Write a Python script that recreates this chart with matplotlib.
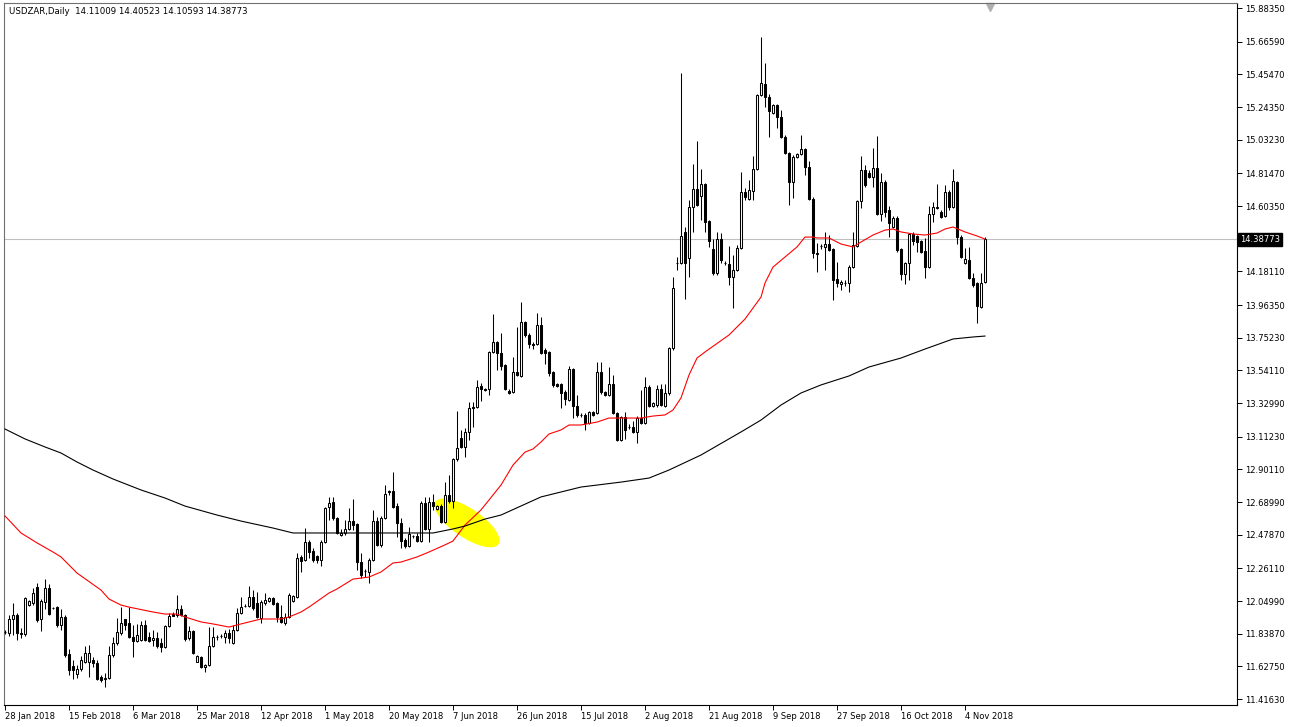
import matplotlib
matplotlib.use("Agg")
import matplotlib.pyplot as plt
from matplotlib.patches import Ellipse
from matplotlib.transforms import IdentityTransform, blended_transform_factory
import numpy as np

# 字体设置
matplotlib.rcParams['font.family'] = ['DejaVu Sans']

# USDZAR 日线 OHLC（从图中读取，每根K线一个值）
opens = [11.850, 11.843, 11.934, 11.960, 11.843, 11.837, 12.024, 12.037, 12.141, 11.934,
         12.044, 12.134, 12.005, 12.011, 11.895, 11.947, 11.708, 11.630, 11.578, 11.611,
         11.656, 11.656, 11.669, 11.650, 11.559, 11.546, 11.552, 11.701, 11.779, 11.843,
         11.934, 11.908, 11.818, 11.792, 11.798, 11.895, 11.818, 11.798, 11.811, 11.779,
         11.753, 11.889, 11.966, 11.960, 11.999, 11.960, 11.811, 11.856, 11.656, 11.688,
         11.624, 11.637, 11.759, 11.818, 11.824, 11.818, 11.843, 11.779, 11.863, 11.973,
         12.018, 12.018, 12.076, 12.037, 11.940, 12.037, 12.050, 12.070, 12.037, 11.947,
         11.908, 11.947, 12.050, 12.076, 12.335, 12.315, 12.432, 12.374, 12.341, 12.315,
         12.432, 12.658, 12.690, 12.587, 12.477, 12.490, 12.516, 12.567, 12.548, 12.302,
         12.244, 12.238, 12.315, 12.567, 12.413, 12.587, 12.761, 12.761, 12.664, 12.554,
         12.445, 12.406, 12.470, 12.470, 12.438, 12.684, 12.516, 12.690, 12.645, 12.664,
         12.561, 12.735, 12.697, 12.968, 13.104, 13.046, 13.143, 13.304, 13.304, 13.440,
         13.421, 13.421, 13.660, 13.724, 13.653, 13.576, 13.408, 13.401, 13.530, 13.505,
         13.854, 13.770, 13.711, 13.711, 13.834, 13.673, 13.660, 13.530, 13.453, 13.453,
         13.401, 13.350, 13.550, 13.311, 13.253, 13.253, 13.201, 13.272, 13.266, 13.530,
         13.401, 13.382, 13.453, 13.266, 13.091, 13.240, 13.175, 13.175, 13.143, 13.233,
         13.201, 13.434, 13.311, 13.317, 13.421, 13.311, 13.395, 13.686, 14.235, 14.235,
         14.436, 14.267, 14.597, 14.713, 14.668, 14.746, 14.507, 14.326, 14.170, 14.390,
         14.235, 14.229, 14.145, 14.190, 14.332, 14.694, 14.649, 14.700, 14.843, 15.321,
         15.392, 15.308, 15.205, 15.257, 15.179, 15.050, 14.946, 14.759, 14.920, 14.940,
         14.972, 14.856, 14.649, 14.300, 14.345, 14.339, 14.358, 14.326, 14.132, 14.100,
         14.106, 14.106, 14.209, 14.345, 14.636, 14.836, 14.817, 14.791, 14.849, 14.552,
         14.759, 14.578, 14.468, 14.526, 14.326, 14.164, 14.235, 14.423, 14.410, 14.377,
         14.313, 14.209, 14.552, 14.591, 14.565, 14.539, 14.694, 14.597, 14.759, 14.403,
         14.235, 14.255, 14.138, 14.106, 13.951, 14.11009]
highs = [11.863, 11.960, 12.037, 11.973, 11.876, 12.076, 12.057, 12.134, 12.167, 12.063,
         12.192, 12.160, 12.011, 12.018, 11.999, 11.960, 11.740, 11.669, 11.637, 11.695,
         11.759, 11.766, 11.688, 11.669, 11.572, 11.585, 11.759, 11.818, 11.940, 12.011,
         11.937, 12.011, 11.895, 11.902, 11.921, 11.927, 11.850, 11.863, 11.850, 11.811,
         11.895, 11.973, 11.979, 12.089, 12.024, 11.966, 11.889, 11.863, 11.701, 11.695,
         11.643, 11.882, 11.882, 11.830, 11.837, 11.863, 11.869, 11.895, 12.005, 12.076,
         12.031, 12.147, 12.121, 12.108, 12.057, 12.102, 12.076, 12.076, 12.044, 12.024,
         11.973, 12.102, 12.089, 12.361, 12.348, 12.522, 12.445, 12.393, 12.348, 12.445,
         12.658, 12.722, 12.722, 12.593, 12.516, 12.574, 12.651, 12.709, 12.554, 12.361,
         12.257, 12.328, 12.639, 12.593, 12.600, 12.800, 12.768, 12.884, 12.684, 12.587,
         12.458, 12.529, 12.477, 12.490, 12.697, 12.722, 12.722, 12.742, 12.671, 12.677,
         12.819, 12.865, 12.975, 13.278, 13.156, 13.169, 13.337, 13.337, 13.479, 13.459,
         13.427, 13.666, 13.905, 13.731, 13.782, 13.582, 13.421, 13.627, 13.821, 13.983,
         13.860, 13.782, 13.724, 13.912, 13.886, 13.686, 13.666, 13.537, 13.459, 13.459,
         13.414, 13.569, 13.556, 13.382, 13.266, 13.266, 13.278, 13.278, 13.595, 13.595,
         13.408, 13.563, 13.511, 13.272, 13.246, 13.272, 13.195, 13.214, 13.246, 13.414,
         13.498, 13.447, 13.337, 13.447, 13.453, 13.453, 13.692, 14.145, 14.274, 15.463,
         14.468, 14.642, 14.875, 15.024, 14.843, 14.752, 14.513, 14.390, 14.436, 14.429,
         14.248, 14.345, 14.287, 14.352, 14.823, 14.720, 14.772, 14.927, 15.328, 15.696,
         15.528, 15.328, 15.263, 15.263, 15.224, 15.063, 14.953, 14.933, 14.946, 15.063,
         14.979, 14.894, 14.662, 14.364, 14.358, 14.436, 14.416, 14.332, 14.242, 14.125,
         14.125, 14.222, 14.436, 14.642, 14.927, 14.869, 14.836, 14.979, 15.056, 14.817,
         14.772, 14.604, 14.539, 14.539, 14.332, 14.242, 14.429, 14.436, 14.416, 14.384,
         14.397, 14.604, 14.630, 14.746, 14.578, 14.739, 14.707, 14.843, 14.765, 14.416,
         14.332, 14.339, 14.170, 14.112, 14.170, 14.40523]
lows = [11.837, 11.824, 11.830, 11.798, 11.811, 11.824, 12.018, 12.024, 11.915, 11.856,
        11.999, 11.960, 11.999, 11.882, 11.863, 11.688, 11.572, 11.546, 11.552, 11.598,
        11.650, 11.559, 11.624, 11.540, 11.527, 11.494, 11.546, 11.688, 11.766, 11.830,
        11.863, 11.811, 11.688, 11.785, 11.792, 11.792, 11.785, 11.759, 11.746, 11.721,
        11.746, 11.882, 11.953, 11.947, 11.953, 11.792, 11.798, 11.708, 11.653, 11.617,
        11.591, 11.630, 11.753, 11.798, 11.811, 11.779, 11.779, 11.772, 11.856, 11.966,
        12.011, 12.011, 11.992, 11.940, 11.908, 12.024, 12.044, 12.024, 11.915, 11.908,
        11.895, 11.940, 12.044, 12.070, 12.238, 12.309, 12.328, 12.302, 12.296, 12.277,
        12.426, 12.574, 12.574, 12.483, 12.470, 12.477, 12.509, 12.509, 12.251, 12.199,
        12.205, 12.167, 12.309, 12.406, 12.400, 12.580, 12.735, 12.651, 12.464, 12.393,
        12.393, 12.400, 12.458, 12.432, 12.432, 12.509, 12.432, 12.639, 12.639, 12.554,
        12.554, 12.684, 12.651, 12.955, 13.039, 12.981, 13.091, 13.175, 13.298, 13.343,
        13.408, 13.382, 13.653, 13.543, 13.543, 13.414, 13.388, 13.395, 13.505, 13.498,
        13.757, 13.686, 13.679, 13.705, 13.647, 13.582, 13.505, 13.434, 13.434, 13.298,
        13.317, 13.343, 13.233, 13.240, 13.240, 13.156, 13.195, 13.246, 13.259, 13.388,
        13.375, 13.375, 13.259, 13.084, 13.084, 13.098, 13.162, 13.136, 13.072, 13.195,
        13.195, 13.304, 13.304, 13.304, 13.311, 13.304, 13.382, 13.673, 14.190, 14.229,
        14.002, 14.145, 14.436, 14.603, 14.513, 14.436, 14.339, 14.157, 14.157, 14.235,
        14.222, 14.093, 13.944, 14.183, 14.326, 14.642, 14.642, 14.642, 14.836, 15.315,
        15.244, 15.050, 15.198, 15.108, 15.043, 14.940, 14.610, 14.655, 14.914, 14.933,
        14.804, 14.642, 14.267, 14.177, 14.326, 14.190, 14.313, 13.996, 14.080, 14.061,
        14.087, 14.048, 14.203, 14.339, 14.591, 14.726, 14.785, 14.726, 14.545, 14.507,
        14.532, 14.403, 14.461, 14.306, 14.125, 14.100, 14.125, 14.352, 14.306, 14.300,
        14.138, 14.203, 14.500, 14.584, 14.526, 14.532, 14.578, 14.591, 14.358, 14.267,
        14.229, 14.132, 14.080, 13.847, 13.944, 14.10593]
closes = [11.850, 11.934, 11.960, 11.843, 11.837, 12.070, 12.050, 12.102, 11.927, 12.050,
          12.134, 11.966, 12.005, 11.895, 11.947, 11.701, 11.604, 11.604, 11.611, 11.669,
          11.714, 11.714, 11.650, 11.546, 11.540, 11.552, 11.701, 11.779, 11.850, 11.908,
          11.895, 11.818, 11.792, 11.830, 11.895, 11.798, 11.792, 11.811, 11.759, 11.753,
          11.889, 11.953, 11.953, 11.999, 11.960, 11.805, 11.856, 11.714, 11.695, 11.624,
          11.637, 11.759, 11.818, 11.818, 11.824, 11.843, 11.811, 11.863, 11.973, 12.011,
          12.018, 12.076, 12.005, 11.947, 12.044, 12.057, 12.070, 12.031, 11.947, 11.915,
          11.947, 12.089, 12.083, 12.328, 12.309, 12.432, 12.367, 12.315, 12.315, 12.432,
          12.651, 12.684, 12.587, 12.490, 12.490, 12.516, 12.567, 12.541, 12.302, 12.218,
          12.244, 12.315, 12.567, 12.413, 12.587, 12.742, 12.755, 12.658, 12.554, 12.438,
          12.406, 12.483, 12.470, 12.438, 12.684, 12.516, 12.690, 12.664, 12.664, 12.561,
          12.735, 12.697, 12.968, 13.039, 13.046, 13.143, 13.298, 13.298, 13.434, 13.421,
          13.414, 13.660, 13.724, 13.653, 13.569, 13.421, 13.395, 13.530, 13.511, 13.854,
          13.770, 13.711, 13.705, 13.834, 13.653, 13.653, 13.524, 13.447, 13.440, 13.395,
          13.356, 13.550, 13.311, 13.253, 13.253, 13.201, 13.272, 13.253, 13.530, 13.401,
          13.382, 13.453, 13.266, 13.091, 13.240, 13.156, 13.175, 13.143, 13.233, 13.201,
          13.434, 13.311, 13.330, 13.421, 13.317, 13.395, 13.686, 14.074, 14.235, 14.410,
          14.235, 14.597, 14.713, 14.610, 14.746, 14.500, 14.377, 14.170, 14.390, 14.255,
          14.235, 14.145, 14.190, 14.332, 14.694, 14.662, 14.707, 14.843, 15.321, 15.399,
          15.308, 15.218, 15.257, 15.179, 15.050, 14.946, 14.759, 14.920, 14.940, 14.972,
          14.856, 14.649, 14.300, 14.293, 14.345, 14.358, 14.319, 14.125, 14.106, 14.112,
          14.106, 14.209, 14.352, 14.636, 14.836, 14.739, 14.791, 14.849, 14.552, 14.759,
          14.565, 14.494, 14.526, 14.319, 14.164, 14.235, 14.423, 14.377, 14.371, 14.306,
          14.209, 14.552, 14.597, 14.597, 14.532, 14.694, 14.597, 14.765, 14.403, 14.274,
          14.261, 14.138, 14.093, 13.957, 14.106, 14.38773]

# 红色均线（K线序号, 数值）
red_ma_bar = [0, 4, 8, 12, 14, 18, 24, 26, 29, 31, 37, 40, 43, 45, 49, 52, 56, 59, 64, 69,
              71, 74, 76, 81, 83, 87, 91, 94, 97, 99, 103, 106, 110, 112, 115, 119, 124, 127, 130, 132,
              134, 136, 139, 141, 144, 148, 151, 155, 159, 162, 165, 167, 169, 171, 173, 175, 181, 185, 189, 190,
              192, 195, 198, 200, 202, 203, 206, 209, 212, 214, 217, 220, 222, 224, 227, 230, 233, 235, 237, 240,
              243, 245]
red_ma = [12.600, 12.490, 12.426, 12.367, 12.335, 12.231, 12.121, 12.063, 12.024, 12.011,
          11.979, 11.966, 11.966, 11.947, 11.915, 11.902, 11.882, 11.902, 11.934, 11.934,
          11.947, 11.979, 12.011, 12.102, 12.128, 12.192, 12.205, 12.238, 12.296, 12.302,
          12.335, 12.367, 12.413, 12.438, 12.541, 12.639, 12.800, 12.929, 13.013, 13.033,
          13.078, 13.130, 13.156, 13.188, 13.188, 13.207, 13.233, 13.233, 13.233, 13.246,
          13.253, 13.285, 13.363, 13.511, 13.621, 13.660, 13.770, 13.873, 14.015, 14.106,
          14.209, 14.274, 14.339, 14.403, 14.403, 14.397, 14.397, 14.358, 14.339, 14.371,
          14.416, 14.448, 14.455, 14.436, 14.423, 14.416, 14.429, 14.455, 14.468, 14.436,
          14.410, 14.390]

# 黑色均线（K线序号, 数值）
black_ma_bar = [0, 5, 10, 14, 18, 22, 27, 34, 40, 45, 53, 59, 67, 72, 81, 107, 112, 115, 120, 124,
                134, 144, 154, 161, 166, 174, 184, 189, 194, 199, 204, 211, 216, 224, 230, 237, 242, 245]
black_ma = [13.162, 13.098, 13.046, 13.007, 12.949, 12.897, 12.839, 12.768, 12.716, 12.664,
            12.606, 12.567, 12.522, 12.490, 12.490, 12.490, 12.516, 12.535, 12.580, 12.606,
            12.723, 12.787, 12.819, 12.845, 12.897, 12.994, 13.143, 13.220, 13.317, 13.395,
            13.447, 13.505, 13.563, 13.621, 13.679, 13.744, 13.757, 13.763]

# 坐标轴标签
date_bars = [0, 16, 32, 48, 64, 80, 96, 112, 128, 144, 160, 176, 192, 208, 224, 240]
date_labels = ["28 Jan 2018", "15 Feb 2018", "6 Mar 2018", "25 Mar 2018", "12 Apr 2018",
               "1 May 2018", "20 May 2018", "7 Jun 2018", "26 Jun 2018", "15 Jul 2018",
               "2 Aug 2018", "21 Aug 2018", "9 Sep 2018", "27 Sep 2018", "16 Oct 2018",
               "4 Nov 2018"]
price_labels = ["15.88350", "15.66590", "15.45470", "15.24350", "15.03230", "14.81470",
                "14.60350", "14.18110", "13.96350", "13.75230", "13.54110", "13.32990",
                "13.11230", "12.90110", "12.68990", "12.47870", "12.26110", "12.04990",
                "11.83870", "11.62750", "11.41630"]
last_price = 14.38773
title_text = "USDZAR,Daily  14.11009 14.40523 14.10593 14.38773"

W, H = 1289, 727
fig = plt.figure(figsize=(W / 100, H / 100), dpi=100)
fig.patch.set_facecolor('white')
ax = fig.add_axes([4 / W, 22 / H, 1233 / W, 702 / H])
ax.set_facecolor('white')
ax.set_xlim(-0.25, 308)
ax.set_ylim(11.378, 15.916)

o = np.array(opens)
h = np.array(highs)
l = np.array(lows)
c = np.array(closes)
x = np.arange(len(o))
up = c >= o

# 当前价格线
ax.axhline(last_price, color='#C0C0C0', linewidth=0.8, zorder=0)

# K线：影线 + 实体
ax.vlines(x, l, h, color='black', linewidth=0.75, zorder=3)
body_bottom = np.minimum(o, c)
body_height = np.abs(c - o)
ax.bar(x[up], body_height[up], 0.5, bottom=body_bottom[up], facecolor='white',
       edgecolor='black', linewidth=0.75, zorder=4)
ax.bar(x[~up], body_height[~up], 0.5, bottom=body_bottom[~up], facecolor='black',
       edgecolor='black', linewidth=0.75, zorder=4)

# 均线
ax.plot(red_ma_bar, red_ma, color='red', linewidth=0.8, zorder=5)
ax.plot(black_ma_bar, black_ma, color='black', linewidth=0.8, zorder=5)

# 黄色标记
cx, cy = ax.transData.transform((115.5, 12.555))
blob = Ellipse((cx, cy), 76, 29, angle=-34, transform=IdentityTransform(),
               facecolor='#FFFF00', edgecolor='none', zorder=1)
ax.add_patch(blob)

# 右侧价格轴
ax.yaxis.tick_right()
ax.set_yticks([float(s) for s in price_labels] + [last_price])
ax.set_yticklabels(price_labels + [""])
ax.tick_params(axis='y', direction='out', length=3.5, width=0.7, pad=2, labelsize=6)

# 底部日期轴
ax.set_xticks(date_bars)
ax.set_xticklabels(date_labels, ha='left')
ax.tick_params(axis='x', direction='out', length=3.5, width=0.7, pad=1.5, labelsize=6)

for side in ['right', 'bottom']:
    ax.spines[side].set_color('black')
    ax.spines[side].set_linewidth(0.8)
for side in ['left', 'top']:
    ax.spines[side].set_color('#707070')
    ax.spines[side].set_linewidth(0.8)

# 当前价格标签
trans = blended_transform_factory(ax.transAxes, ax.transData)
ax.text(1.0 + 3 / 1233, last_price, "14.38773", transform=trans, ha='left', va='center',
        fontsize=6, color='white', zorder=10,
        bbox=dict(boxstyle='square,pad=0.25', facecolor='black', edgecolor='black'))

# 图表偏移标记
ax.plot([246.3], [0.995], marker='v', markersize=6, color='#B0B0B0',
        transform=blended_transform_factory(ax.transData, ax.transAxes), clip_on=False)

# 标题
fig.text(9 / W, 1 - 12 / H, title_text, fontsize=6.2, va='center', ha='left', color='black')

fig.savefig("out.png", dpi=100)
